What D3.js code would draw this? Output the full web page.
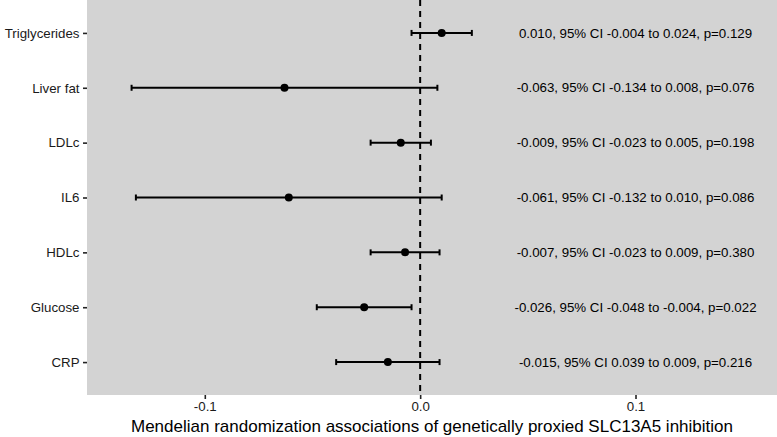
<!DOCTYPE html>
<html>
<head>
<meta charset="utf-8">
<script src="https://cdn.jsdelivr.net/npm/d3@7"></script>
<style>
  html, body { margin: 0; padding: 0; background: #fff; }
  svg { display: block; }
  text { font-family: "Liberation Sans", Arial, Helvetica, sans-serif; }
</style>
</head>
<body>
<svg id="chart" width="777" height="437"></svg>
<script>
// ---- data ----
const outcomes = ["Triglycerides", "Liver fat", "LDLc", "IL6", "HDLc", "Glucose", "CRP"];
const estimates = [0.010, -0.063, -0.009, -0.061, -0.007, -0.026, -0.015];
const lower = [-0.004, -0.134, -0.023, -0.132, -0.023, -0.048, -0.039];
const upper = [0.024, 0.008, 0.005, 0.010, 0.009, -0.004, 0.009];
const labels = [
  "0.010, 95% CI -0.004 to 0.024, p=0.129",
  "-0.063, 95% CI -0.134 to 0.008, p=0.076",
  "-0.009, 95% CI -0.023 to 0.005, p=0.198",
  "-0.061, 95% CI -0.132 to 0.010, p=0.086",
  "-0.007, 95% CI -0.023 to 0.009, p=0.380",
  "-0.026, 95% CI -0.048 to -0.004, p=0.022",
  "-0.015, 95% CI 0.039 to 0.009, p=0.216"
];
const labelX = 0.1;
const xTicks = [-0.1, 0.0, 0.1];
const xTickLabels = ["-0.1", "0.0", "0.1"];
const xTitle = "Mendelian randomization associations of genetically proxied SLC13A5 inhibition";

// ---- layout ----
const panel = { left: 87, right: 777, top: 0, bottom: 395 };
const svg = d3.select("#chart");

const x = d3.scaleLinear().domain([-0.1547, 0.1657]).range([panel.left, panel.right]);
const y = d3.scalePoint().domain(outcomes).range([panel.top, panel.bottom]).padding(0.6);

const rows = outcomes.map((o, i) => ({ o, est: estimates[i], lo: lower[i], hi: upper[i], lab: labels[i] }));

// panel background
svg.append("rect")
  .attr("x", panel.left).attr("y", panel.top)
  .attr("width", panel.right - panel.left).attr("height", panel.bottom - panel.top)
  .attr("fill", "#d3d3d3");

// dashed reference line at 0
svg.append("line")
  .attr("x1", x(0)).attr("x2", x(0))
  .attr("y1", panel.top).attr("y2", panel.bottom)
  .attr("stroke", "#000").attr("stroke-width", 2)
  .attr("stroke-dasharray", "6,5");

// error bars
const g = svg.append("g");
const capH = 3;
g.selectAll("line.ci").data(rows).join("line")
  .attr("class", "ci")
  .attr("x1", d => x(d.lo)).attr("x2", d => x(d.hi))
  .attr("y1", d => y(d.o)).attr("y2", d => y(d.o))
  .attr("stroke", "#000").attr("stroke-width", 2);
g.selectAll("line.capL").data(rows).join("line")
  .attr("class", "capL")
  .attr("x1", d => x(d.lo)).attr("x2", d => x(d.lo))
  .attr("y1", d => y(d.o) - capH).attr("y2", d => y(d.o) + capH)
  .attr("stroke", "#000").attr("stroke-width", 2);
g.selectAll("line.capR").data(rows).join("line")
  .attr("class", "capR")
  .attr("x1", d => x(d.hi)).attr("x2", d => x(d.hi))
  .attr("y1", d => y(d.o) - capH).attr("y2", d => y(d.o) + capH)
  .attr("stroke", "#000").attr("stroke-width", 2);

// points
g.selectAll("circle").data(rows).join("circle")
  .attr("cx", d => x(d.est)).attr("cy", d => y(d.o))
  .attr("r", 4).attr("fill", "#000");

// annotation texts
g.selectAll("text.lab").data(rows).join("text")
  .attr("class", "lab")
  .attr("x", x(labelX)).attr("y", d => y(d.o))
  .attr("dy", "0.35em")
  .attr("text-anchor", "middle")
  .attr("font-size", "13.3px")
  .attr("fill", "#000")
  .text(d => d.lab);

// y axis
const yAxis = d3.axisLeft(y).tickSize(4).tickPadding(3.5);
const ya = svg.append("g").attr("transform", `translate(${panel.left},0)`).call(yAxis);
ya.select(".domain").remove();
ya.selectAll(".tick line").attr("stroke", "#222").attr("stroke-width", 1.6);
ya.selectAll(".tick text").attr("font-size", "13.3px").attr("fill", "#1a1a1a")
  .attr("font-family", "Liberation Sans, Arial, sans-serif");

// x axis
const xAxis = d3.axisBottom(x).tickValues(xTicks).tickFormat((d, i) => xTickLabels[i]).tickSize(4).tickPadding(3);
const xa = svg.append("g").attr("transform", `translate(0,${panel.bottom})`).call(xAxis);
xa.select(".domain").remove();
xa.selectAll(".tick line").attr("stroke", "#222").attr("stroke-width", 1.6);
xa.selectAll(".tick text").attr("font-size", "13.3px").attr("fill", "#1a1a1a")
  .attr("font-family", "Liberation Sans, Arial, sans-serif");

// x title
svg.append("text")
  .attr("x", (panel.left + panel.right) / 2)
  .attr("y", 432)
  .attr("text-anchor", "middle")
  .attr("font-size", "17px")
  .attr("fill", "#000")
  .text(xTitle);
</script>
</body>
</html>
